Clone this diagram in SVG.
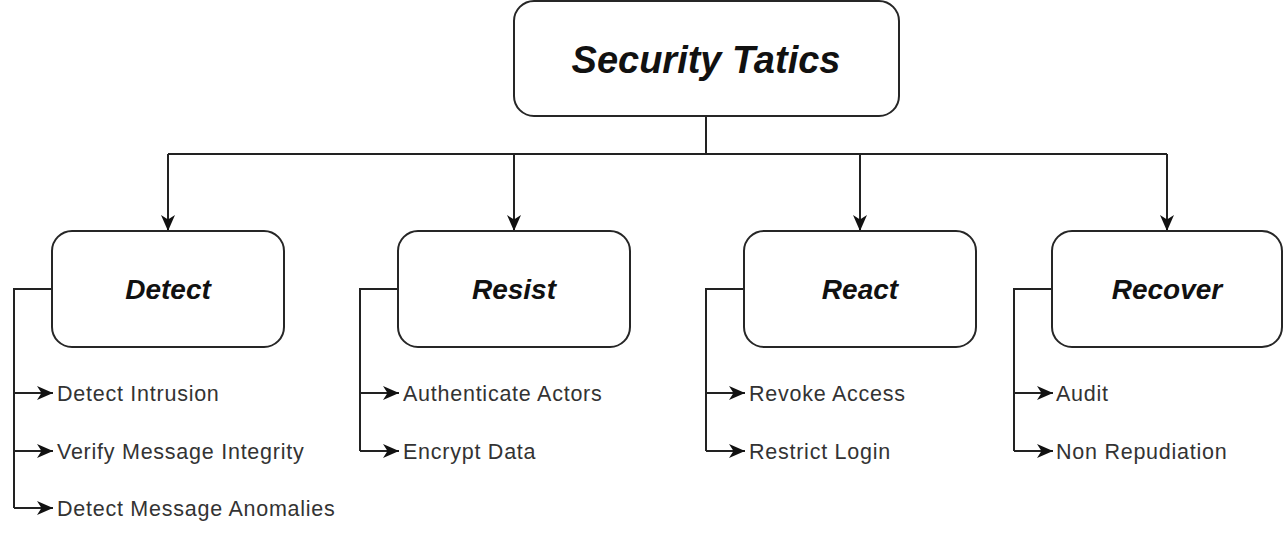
<svg xmlns="http://www.w3.org/2000/svg" width="1284" height="540" viewBox="0 0 1284 540">
<style>
.box{fill:#fff;stroke:#262626;stroke-width:2}
.title{font-family:"Liberation Sans",Arial,sans-serif;font-weight:bold;font-style:italic;fill:#111;text-anchor:middle}
.item{font-family:"Liberation Sans",Arial,sans-serif;font-size:21.5px;fill:#333;letter-spacing:0.75px}
.ln{fill:none;stroke:#222;stroke-width:2}
</style>
<defs>
<marker id="ah" markerUnits="userSpaceOnUse" markerWidth="17" markerHeight="16" viewBox="0 0 17 16" refX="16" refY="8" orient="auto">
<path d="M0,1 L16,8 L0,15 L4.5,8 z" fill="#111"/>
</marker>
</defs>
<g id="connectors">
<path class="ln" d="M706,116 V154"/>
<path class="ln" d="M168,154 H1167"/>
<path class="ln" d="M168,154 V231" marker-end="url(#ah)"/>
<path class="ln" d="M514,154 V231" marker-end="url(#ah)"/>
<path class="ln" d="M860,154 V231" marker-end="url(#ah)"/>
<path class="ln" d="M1167,154 V231" marker-end="url(#ah)"/>
<path class="ln" d="M52,289 H14 V508"/>
<path class="ln" d="M14,393 H53" marker-end="url(#ah)"/>
<path class="ln" d="M14,451 H53" marker-end="url(#ah)"/>
<path class="ln" d="M14,508 H53" marker-end="url(#ah)"/>
<path class="ln" d="M398,289 H360 V451"/>
<path class="ln" d="M360,393 H399" marker-end="url(#ah)"/>
<path class="ln" d="M360,451 H399" marker-end="url(#ah)"/>
<path class="ln" d="M744,289 H706 V451"/>
<path class="ln" d="M706,393 H745" marker-end="url(#ah)"/>
<path class="ln" d="M706,451 H745" marker-end="url(#ah)"/>
<path class="ln" d="M1052,289 H1014 V451"/>
<path class="ln" d="M1014,393 H1053" marker-end="url(#ah)"/>
<path class="ln" d="M1014,451 H1053" marker-end="url(#ah)"/>
</g>
<g id="security-tatics">
<rect class="box" x="514" y="1" width="385" height="115" rx="20"/>
<text class="title" x="706" y="73" font-size="38">Security Tatics</text>
</g>
<g id="detect">
<rect class="box" x="52" y="231" width="232" height="116" rx="20"/>
<text class="title" x="168" y="299" font-size="28">Detect</text>
</g>
<g id="resist">
<rect class="box" x="398" y="231" width="232" height="116" rx="20"/>
<text class="title" x="514" y="299" font-size="28">Resist</text>
</g>
<g id="react">
<rect class="box" x="744" y="231" width="232" height="116" rx="20"/>
<text class="title" x="860" y="299" font-size="28">React</text>
</g>
<g id="recover">
<rect class="box" x="1052" y="231" width="230" height="116" rx="20"/>
<text class="title" x="1167" y="299" font-size="28">Recover</text>
</g>
<g id="items">
<text class="item" x="57" y="401">Detect Intrusion</text>
<text class="item" x="57" y="459">Verify Message Integrity</text>
<text class="item" x="57" y="516">Detect Message Anomalies</text>
<text class="item" x="403" y="401">Authenticate Actors</text>
<text class="item" x="403" y="459">Encrypt Data</text>
<text class="item" x="749" y="401">Revoke Access</text>
<text class="item" x="749" y="459">Restrict Login</text>
<text class="item" x="1056" y="401">Audit</text>
<text class="item" x="1056" y="459">Non Repudiation</text>
</g>
</svg>
